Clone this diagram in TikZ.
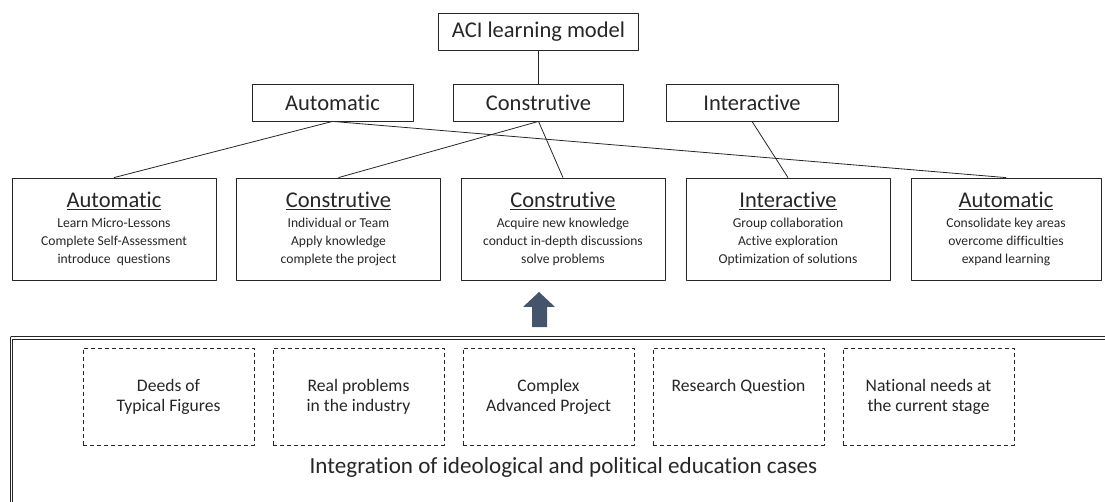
\documentclass[tikz,border=0pt]{standalone}
\usepackage{fontspec}
\setmainfont{Carlito}[Ligatures=NoCommon]

\definecolor{ink}{HTML}{262626}
\definecolor{arrowblue}{HTML}{44546A}

\newcommand{\bigfont}{\fontsize{22.5}{27}\selectfont}
\newcommand{\bodyfont}{\fontsize{13.6}{18}\selectfont}
\newcommand{\casefont}{\fontsize{17.6}{20}\selectfont}

\begin{document}
\begin{tikzpicture}[x=1pt, y=1pt, line join=round,
    modelbox/.style={draw=ink, line width=0.8pt, text=ink, font=\bigfont, inner sep=0pt, minimum height=37pt},
    phasebox/.style={draw=ink, line width=0.8pt, text=ink, font=\bodyfont, align=center, inner sep=0pt, minimum width=204pt, minimum height=102pt},
    casebox/.style={draw=ink, line width=0.7pt, dash pattern=on 4pt off 3pt, text=ink, font=\casefont, align=center, inner sep=0pt, minimum width=171pt, minimum height=97pt},
    link/.style={draw=ink, line width=0.8pt}]
    \useasboundingbox (0,0) rectangle (1105,501);
    \clip (0,0) rectangle (1105,501);

    % 顶层与第二层
    \node[modelbox, minimum width=200pt] (aci) at (538.5,469) {ACI learning model};
    \node[modelbox, minimum width=161pt] (auto) at (332.5,398.5) {Automatic};
    \node[modelbox, minimum width=170pt] (cons) at (538.5,398.5) {Construtive};
    \node[modelbox, minimum width=172pt] (inter) at (752,398.5) {Interactive};

    % 五个教学环节
    \node[phasebox] (p1) at (114,272) {{\bigfont\underline{Automatic}}\\[2pt]
        Learn Micro-Lessons\\ Complete Self-Assessment\\ introduce~ questions};
    \node[phasebox] (p2) at (338.5,272) {{\bigfont\underline{Construtive}}\\[2pt]
        Individual or Team\\ Apply knowledge\\ complete the project};
    \node[phasebox] (p3) at (563,272) {{\bigfont\underline{Construtive}}\\[2pt]
        Acquire new knowledge\\ conduct in-depth discussions\\ solve problems};
    \node[phasebox] (p4) at (788,272) {{\bigfont\underline{Interactive}}\\[2pt]
        Group collaboration\\ Active exploration\\ Optimization of solutions};
    \node[phasebox, minimum width=190pt] (p5) at (1006,272) {{\bigfont\underline{Automatic}}\\[2pt]
        Consolidate key areas\\ overcome difficulties\\ expand learning};

    % 连线
    \draw[link] (aci.south) -- (cons.north);
    \draw[link] (auto.south) -- (p1.north);
    \draw[link] (auto.south) -- (p5.north);
    \draw[link] (cons.south) -- (p2.north);
    \draw[link] (cons.south) -- (p3.north);
    \draw[link] (inter.south) -- (p4.north);

    % 向上的箭头
    \fill[arrowblue] (532,174) -- (532,194) -- (523,194) -- (539,209)
        -- (555,194) -- (547,194) -- (547,174) -- cycle;

    % 下方案例框
    \draw[draw=ink, line width=1pt, double, double distance=1.2pt] (11.5,-10) |- (1120,163);
    \node[casebox] (c1) at (168.5,104.5) {Deeds of\\ Typical Figures};
    \node[casebox] (c2) at (358.5,104.5) {Real problems\\ in the industry};
    \node[casebox] (c3) at (548.5,104.5) {Complex\\ Advanced Project};
    \node[casebox] (c4) at (738.5,104.5) {Research Question\\ \phantom{Q}};
    \node[casebox] (c5) at (928.5,104.5) {National needs at\\ the current stage};
    \node[font=\fontsize{23.1}{28}\selectfont, text=ink] (cases) at (563.5,34)
        {Integration of ideological and political education cases};
\end{tikzpicture}
\end{document}
